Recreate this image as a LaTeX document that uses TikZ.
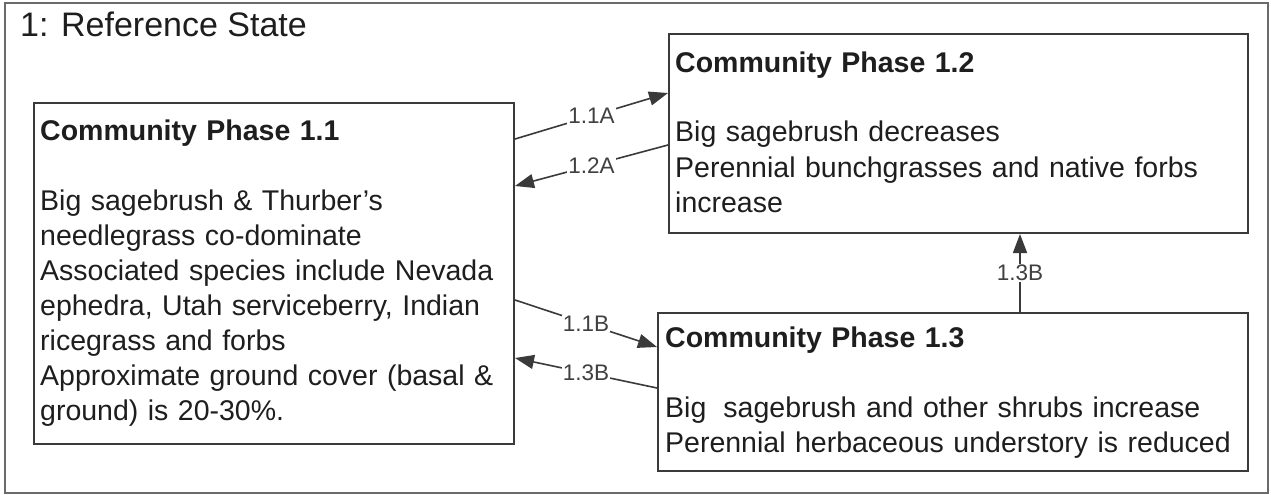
\documentclass[tikz,border=0pt]{standalone}
\usepackage{fontspec}
\setmainfont{Liberation Sans}
\usetikzlibrary{arrows.meta,calc}
\definecolor{linegray}{HTML}{3A3A3A}
\definecolor{framegray}{HTML}{6A6A6A}
\definecolor{txtcol}{HTML}{1E1E1E}
\newcommand\myphasefont{\fontsize{28.5}{35}\selectfont\hyphenpenalty=10000 \exhyphenpenalty=10000 }
\tikzset{
  phasebox/.style={draw=linegray, line width=2pt, fill=white, inner sep=0pt, anchor=north west},
  phasetext/.style={anchor=base west, inner sep=0pt, text width=700pt, align=left, text=txtcol,
    font=\myphasefont},
  conn/.style={draw=linegray, line width=1.6pt, -{Triangle[length=19pt,width=14pt]}},
  lbl/.style={fill=white, inner sep=1pt, text=txtcol!85, font=\fontsize{22.5}{24}\selectfont},
}
\begin{document}
\begin{tikzpicture}[x=1pt,y=-1pt]
\useasboundingbox (0,0) rectangle (1271,495);
\draw[framegray, line width=2pt] (5,3) rectangle (1268,493);
\node[anchor=base west, inner sep=0pt, text=txtcol, font=\fontsize{34}{40}\selectfont] (title) at (20,37) {1: Reference State};

% boxes
\node[phasebox, minimum width=480pt, minimum height=341pt] (p11) at (33,102) {};
\node[phasebox, minimum width=579pt, minimum height=199pt] (p12) at (668,33) {};
\node[phasebox, minimum width=590pt, minimum height=158pt] (p13) at (657,312) {};

% texts
\node[phasetext] (t11) at (40,140) {\textbf{Community Phase 1.1}\\[35pt]
Big sagebrush \& Thurber’s\\
needlegrass co-dominate\\
Associated species include Nevada\\
ephedra, Utah serviceberry, Indian\\
ricegrass and forbs\\
Approximate ground cover (basal \&\\
ground) is 20-30\%.};
\node[phasetext] (t12) at (675,72) {\textbf{Community Phase 1.2}\\[35pt]
Big sagebrush decreases\\
Perennial bunchgrasses and native forbs\\
increase};
\node[phasetext] (t13) at (665,347) {\textbf{Community Phase 1.3}\\[35pt]
Big\hspace{0.6em}sagebrush and other shrubs increase\\
Perennial herbaceous understory is reduced};

% connectors
\draw[conn] ($(p11.north east)+(0,37)$) -- node[lbl] (l11a) {1.1A} ($(p12.north west)+(0,60)$);
\draw[conn] ($(p12.north west)+(0,112)$) -- node[lbl] (l12a) {1.2A} ($(p11.north east)+(0,84)$);
\draw[conn] ($(p11.north east)+(0,198)$) -- node[lbl] (l11b) {1.1B} ($(p13.north west)+(0,35)$);
\draw[conn] ($(p13.north west)+(0,76)$) -- node[lbl] (l13b) {1.3B} ($(p11.north east)+(0,256)$);
\draw[conn] ($(p13.north west)+(363,0)$) -- node[lbl] (l13b2) {1.3B} ($(p12.south west)+(352,0)$);
\end{tikzpicture}
\end{document}
